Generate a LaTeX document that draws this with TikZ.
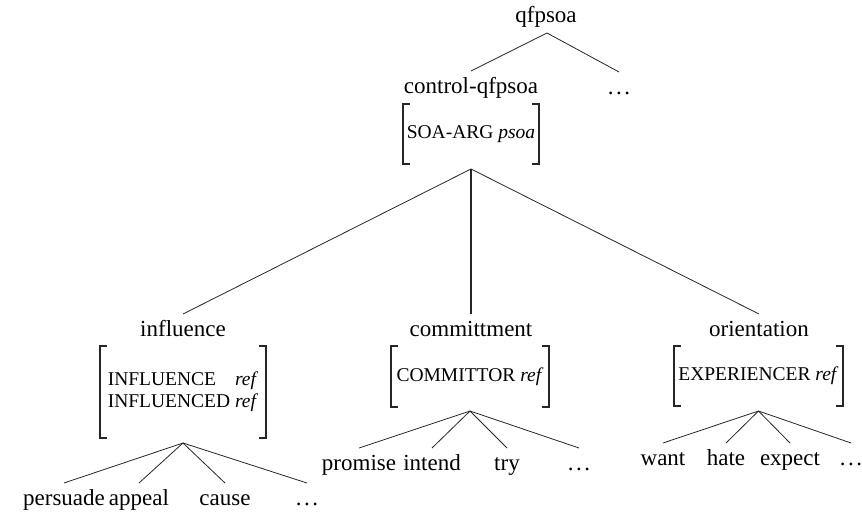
\documentclass[tikz,border=0pt]{standalone}
\usepackage{fontspec}
\setmainfont{Liberation Serif}
\newcommand\lbl{\fontsize{23}{27}\selectfont}
\newcommand\avmf{\fontsize{19.5}{23}\selectfont}
\newcommand\ddd{.\kern2.5pt.\kern2.5pt.}
\begin{document}
\begin{tikzpicture}[x=1pt,y=-1pt,
  lab/.style={anchor=base,inner sep=0pt,outer sep=7pt,text height=15pt,text depth=5pt,font=\lbl},
  avm/.style={inner sep=0pt,outer sep=0pt,font=\avmf,align=left},
  edge/.style={line width=0.8pt,black!85},
  brk/.style={line width=1.8pt,black!85}]
\useasboundingbox (0,0) rectangle (862,514);
\newcommand\avmbr[1]{%
  \draw[brk] ([xshift=7pt]#1.north west) -- (#1.north west) -- (#1.south west) -- ([xshift=7pt]#1.south west);
  \draw[brk] ([xshift=-7pt]#1.north east) -- (#1.north east) -- (#1.south east) -- ([xshift=-7pt]#1.south east);}
% top
\node[lab] (qf) at (546,23) {qfpsoa};
\node[lab] (ctl) at (471,93) {control-qfpsoa};
\node[lab] (tdots) at (619,94) {\ddd};
\coordinate (qfa) at (547,33);
\draw[edge] (qfa) -- (ctl.north);
\draw[edge] (qfa) -- (tdots.north);
\node[avm,minimum width=136pt,minimum height=60pt] (avm0) at (471,134) {SOA-ARG \textit{psoa}};
\avmbr{avm0}
% second level
\node[lab] (inf) at (183,336) {influence};
\node[lab] (com) at (471,336) {committment};
\node[lab] (ori) at (759,336) {orientation};
\coordinate (a0) at ([yshift=-5pt]avm0.south);
\draw[edge] (a0) -- (inf.north);
\draw[edge,line width=1.4pt] (a0) -- (com.north);
\draw[edge] (a0) -- (ori.north);
% AVMs
\node[avm,minimum width=166pt,minimum height=92pt] (avm1) at (183,392)
  {\begin{tabular}{@{}l@{\ }r@{}}INFLUENCE & \textit{ref}\\[-1pt] INFLUENCED & \textit{ref}\end{tabular}};
\avmbr{avm1}
\node[avm,minimum width=158pt,minimum height=61pt] (avm2) at (470,376.5) {COMMITTOR \textit{ref}};
\avmbr{avm2}
\node[avm,minimum width=169pt,minimum height=60pt] (avm3) at (758.5,376) {EXPERIENCER \textit{ref}};
\avmbr{avm3}
\coordinate (a1) at ([yshift=-5pt]avm1.south);
\coordinate (a2) at ([yshift=-4pt]avm2.south);
\coordinate (a3) at ([yshift=-5pt]avm3.south);
% leaves
\node[lab] (l11) at (64,505) {persuade};
\node[lab] (l12) at (139,505) {appeal};
\node[lab] (l13) at (225,505) {cause};
\node[lab] (l14) at (307,505) {\ddd};
\node[lab] (l21) at (359,470) {promise};
\node[lab] (l22) at (432,470) {intend};
\node[lab] (l23) at (507,470) {try};
\node[lab] (l24) at (579,470) {\ddd};
\node[lab] (l31) at (663,465) {want};
\node[lab] (l32) at (726,465) {hate};
\node[lab] (l33) at (790,465) {expect};
\node[lab] (l34) at (851,465) {\ddd};
\foreach \i in {1,2,3,4}{
  \draw[edge] (a1) -- (l1\i.north);
  \draw[edge] (a2) -- (l2\i.north);
  \draw[edge] (a3) -- (l3\i.north);
}
\end{tikzpicture}
\end{document}
